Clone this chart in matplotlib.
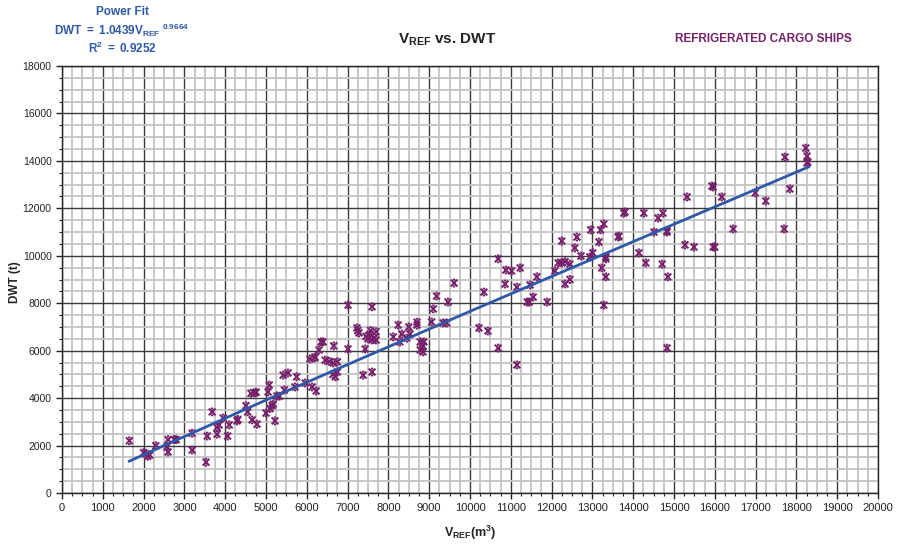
import matplotlib
matplotlib.use("Agg")
import matplotlib.pyplot as plt
from matplotlib.path import Path
from matplotlib.ticker import MultipleLocator

# reefer ships: refrigerated volume (m3) vs deadweight (t)
v_ref = [1650, 2000, 2050, 2100, 2150, 2300, 2570, 2600, 2600, 2750, 2800, 3190, 3190,
         3530, 3560, 3680, 3800, 3800, 3850, 3950, 4060, 4100, 4290, 4310, 4510, 4550,
         4660, 4630, 4720, 4760, 4780, 5000, 5080, 5050, 5100, 5150, 5180, 5220, 5270,
         5330, 5420, 5450, 5540, 5710, 5750, 5960, 6130, 6230, 6080, 6200, 6300, 6350,
         6400, 6200, 6450, 6550, 6650, 6640, 6700, 6750, 6660, 6750, 7010, 7010, 7230,
         7280, 7250, 7380, 7430, 7450, 7500, 7550, 7600, 7650, 7700, 7700, 7560, 7600,
         7600, 8120, 8240, 8280, 8330, 8450, 8530, 8500, 8700, 8700, 8780, 8850, 8870,
         8780, 8850, 9060, 9100, 9180, 9340, 9430, 9460, 9610, 10220, 10340, 10440,
         10690, 10690, 10860, 10880, 11020, 11150, 11150, 11230, 11400, 11450, 11470,
         11550, 11640, 11890, 12080, 12160, 12250, 12330, 12250, 12330, 12450, 12450,
         12620, 12570, 12720, 12940, 13010, 12960, 13160, 13200, 13280, 13230, 13330,
         13330, 13330, 13280, 13630, 13650, 13770, 13800, 14140, 14260, 14310, 14510,
         14610, 14730, 14710, 14830, 14830, 14850, 14830, 15270, 15490, 15320, 15930,
         15960, 15960, 16000, 16170, 16450, 16990, 17250, 17720, 17700, 17840, 18230,
         18260, 18260, 18280]
dwt = [2200, 1700, 1650, 1550, 1600, 1990, 1940, 1730, 2250, 2250, 2250, 2520, 1810,
       1300, 2400, 3420, 2480, 2760, 2870, 3160, 2400, 2870, 3040, 3100, 3680, 3420,
       3080, 4200, 4220, 4250, 2900, 3370, 4550, 4260, 3560, 3680, 3750, 3040, 4090,
       4080, 4970, 4340, 5060, 4470, 4900, 4640, 4470, 4300, 5650, 5700, 6030, 6370,
       6370, 5730, 5600, 5550, 5480, 5000, 4900, 5100, 6200, 5530, 7920, 6070, 6960,
       6750, 6850, 4970, 6070, 6600, 6500, 6700, 6450, 6550, 6450, 6800, 6850, 7850,
       5100, 6580, 7080, 6370, 6700, 6530, 6700, 7000, 7200, 7080, 6370, 6200, 6370,
       6030, 5950, 7210, 7760, 8300, 7170, 7170, 8050, 8850, 6960, 8470, 6830,
       6110, 9870, 8810, 9400, 9360, 5400, 8680, 9490, 8050, 8050, 8770,
       8260, 9110, 8050, 9360, 9700, 9700, 9750, 10620, 8810, 9000, 9650,
       10790, 10330, 9990, 9950, 10120, 11090, 10580, 11090, 11340, 9490, 9950,
       9870, 9110, 7920, 10790, 10830, 11800, 11850, 10120, 11800, 9700, 11000,
       11590, 11800, 9650, 11000, 11050, 9110, 6110, 10460, 10370, 12480, 12940,
       12900, 10370, 10370, 12480, 11130, 12650, 12310, 14160, 11130, 12820, 14540,
       14200, 13910, 13950]

# power fit trendline
fit_v = [1650, 5000, 10000, 15000, 18300]
fit_dwt = [1343, 3918, 7659, 11331, 13747]

purple = "#76206B"
blue = "#2E58A8"

plt.rcParams['font.family'] = ['Liberation Sans', 'DejaVu Sans']
plt.rcParams['mathtext.fontset'] = 'custom'
plt.rcParams['mathtext.rm'] = 'Liberation Sans'
plt.rcParams['mathtext.bf'] = 'Liberation Sans:bold'

# X marker with little caps, like the excel one
verts = [(-1, -1), (1, 1), (-1, 1), (1, -1), (-0.35, 1), (0.35, 1), (-0.35, -1), (0.35, -1)]
codes = [Path.MOVETO, Path.LINETO] * 4
cross = Path(verts, codes)

fig = plt.figure(figsize=(8.97, 5.47), dpi=100)
ax = fig.add_axes([62 / 897, 54 / 547, 816 / 897, 427 / 547])

ax.set_xlim(0, 20000)
ax.set_ylim(0, 18000)
ax.xaxis.set_major_locator(MultipleLocator(1000))
ax.xaxis.set_minor_locator(MultipleLocator(250))
ax.yaxis.set_major_locator(MultipleLocator(2000))
ax.yaxis.set_minor_locator(MultipleLocator(500))
ax.grid(which='minor', color='#c4c4c4', linewidth=1.3)
ax.grid(which='major', color='#3a3a3a', linewidth=1.0)
ax.set_axisbelow(True)
for s in ax.spines.values():
    s.set_color('#222222')
    s.set_linewidth(1.0)
ax.tick_params(which='major', length=4, width=1, color='#222222')
ax.tick_params(which='minor', length=2.5, width=0.8, color='#222222')
for lab in ax.get_xticklabels():
    lab.set_family(['Liberation Sans Narrow', 'Liberation Sans'])
    lab.set_fontsize(8)
    lab.set_color('#222222')
for lab in ax.get_yticklabels():
    lab.set_fontsize(7.5)
    lab.set_color('#222222')

ax.scatter(v_ref, dwt, marker=cross, s=24, facecolors='none', edgecolors=purple,
           linewidths=1.4, zorder=3)
ax.plot(fit_v, fit_dwt, color=blue, linewidth=2, zorder=4)

fig.text(447 / 897, 1 - 40 / 547, r'$\mathbf{V_{REF}}$ vs. DWT', ha='center', va='center',
         fontsize=11, fontweight='bold', color='#222222')
fig.text(763 / 897, 1 - 39 / 547, 'REFRIGERATED CARGO SHIPS', ha='center', va='center',
         fontsize=8.5, fontweight='bold', color=purple)
fig.text(122 / 897, 1 - 12 / 547, 'Power Fit', ha='center', va='center',
         fontsize=8.5, fontweight='bold', color=blue)
fig.text(122 / 897, 1 - 30 / 547, r'$\mathbf{DWT\;=\;1.0439V_{REF}{}^{\ 0.9664}}$',
         ha='center', va='center', fontsize=8.5, color=blue)
fig.text(122 / 897, 1 - 48 / 547, r'$\mathbf{R^2\;=\;0.9252}$', ha='center', va='center',
         fontsize=8.5, color=blue)

fig.text(15 / 897, 1 - 282 / 547, 'DWT (t)', rotation=90, ha='center', va='center',
         fontsize=8.5, fontweight='bold', color='#222222')
fig.text(470 / 897, 1 - 533 / 547, r'$\mathbf{V_{REF}(m^3)}$', ha='center', va='center',
         fontsize=9, family=['Liberation Sans Narrow', 'Liberation Sans'], color='#222222')

fig.savefig('out.png', dpi=100)
